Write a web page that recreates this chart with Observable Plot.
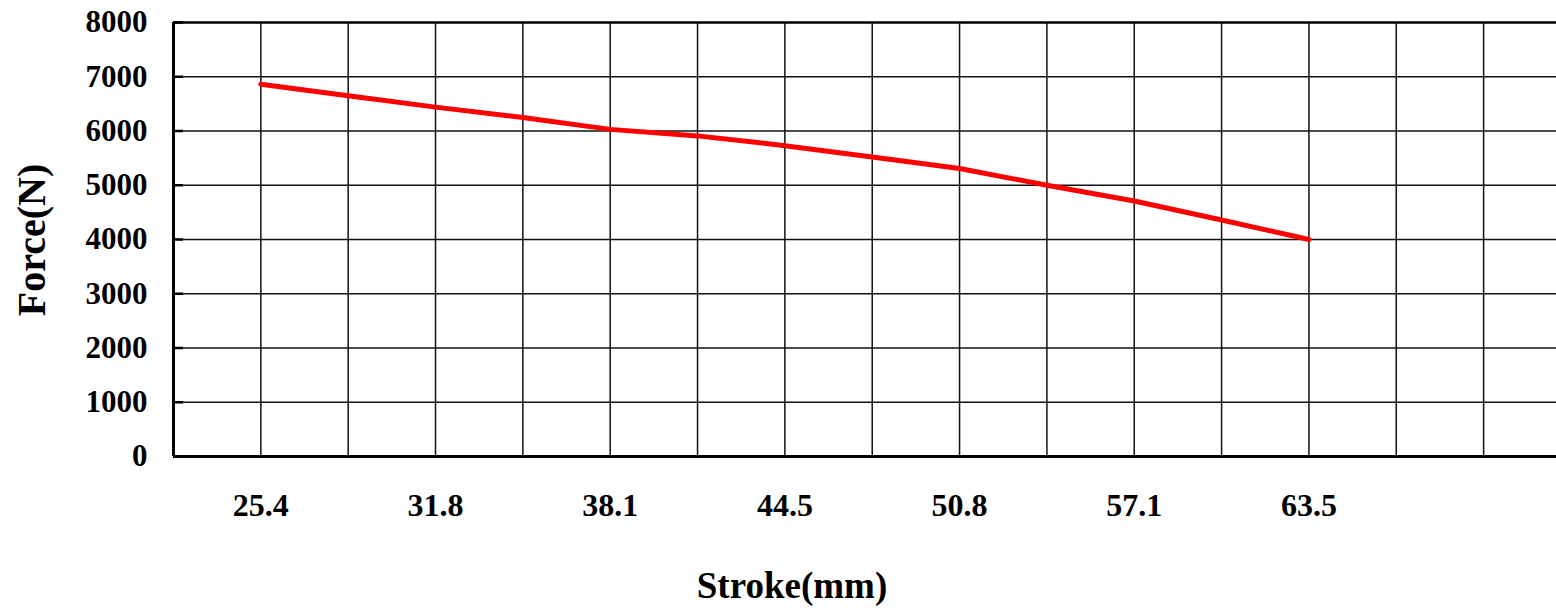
<!DOCTYPE html>
<html>
<head>
<meta charset="utf-8">
<script src="https://cdn.jsdelivr.net/npm/d3@7"></script>
<script src="https://cdn.jsdelivr.net/npm/@observablehq/plot@0.6"></script>
<style>
html, body { margin: 0; padding: 0; background: #ffffff; }
#chart { width: 1556px; height: 608px; position: relative; }
</style>
</head>
<body>
<div id="chart"></div>
<script>
// ---- data ----
const strokeMm = [25.4, 28.575, 31.75, 34.925, 38.1, 41.275, 44.45, 47.625, 50.8, 53.975, 57.15, 60.325, 63.5];
const forceN   = [6860, 6650, 6440, 6250, 6030, 5910, 5730, 5520, 5310, 5000, 4710, 4360, 4000];
const xTickValues = [25.4, 31.75, 38.1, 44.45, 50.8, 57.15, 63.5];
const xTickLabels = ["25.4", "31.8", "38.1", "44.5", "50.8", "57.1", "63.5"];
const xGridValues = [25.4, 28.575, 31.75, 34.925, 38.1, 41.275, 44.45, 47.625, 50.8, 53.975, 57.15, 60.325, 63.5, 66.675, 69.85];
const yTickValues = [0, 1000, 2000, 3000, 4000, 5000, 6000, 7000, 8000];
const xDomain = [22.225, 72.5];
const yDomain = [0, 8000];
const xTitle = "Stroke(mm)";
const yTitle = "Force(N)";

const rows = strokeMm.map((s, i) => ({stroke: s, force: forceN[i]}));
const serif = "'Liberation Serif', 'Times New Roman', Times, serif";

const chart = Plot.plot({
  width: 1556,
  height: 608,
  marginLeft: 173,
  marginRight: 0,
  marginTop: 22,
  marginBottom: 152,
  style: {background: "#ffffff", fontFamily: serif, color: "#000", overflow: "visible"},
  x: {type: "linear", domain: xDomain, axis: null},
  y: {type: "linear", domain: yDomain, axis: null},
  marks: [
    Plot.gridX(xGridValues, {stroke: "#111", strokeOpacity: 1, strokeWidth: 1.5}),
    Plot.gridY(yTickValues.filter(v => v > 0 && v < 8000), {stroke: "#111", strokeOpacity: 1, strokeWidth: 1.5}),
    Plot.ruleY([yDomain[1]], {stroke: "#000", strokeWidth: 2.5}),
    Plot.ruleX([xDomain[0]], {stroke: "#000", strokeWidth: 3}),
    Plot.ruleY([yDomain[0]], {stroke: "#000", strokeWidth: 3}),
    // inward tick marks on the y axis
    Plot.axisY(yTickValues, {anchor: "left", tickSize: 10, dx: 10, tickFormat: () => "", label: null, stroke: "#000", strokeWidth: 2.5}),
    // y tick labels
    Plot.axisY(yTickValues, {anchor: "left", tickSize: 0, tickPadding: 26, tickFormat: d => String(d), label: null,
      fontSize: 31, fontWeight: "bold", fill: "#000"}),
    // x tick labels
    Plot.axisX(xTickValues, {anchor: "bottom", tickSize: 0, tickPadding: 37, tickFormat: (d, i) => xTickLabels[i], label: null,
      fontSize: 32, fontWeight: "bold", fill: "#000"}),
    Plot.line(rows, {x: "stroke", y: "force", stroke: "#ff0000", strokeWidth: 5, strokeLinejoin: "round"})
  ]
});

const svg = d3.select(chart);
svg.append("text")
  .attr("x", 792).attr("y", 598)
  .attr("text-anchor", "middle")
  .attr("font-family", serif).attr("font-weight", "bold").attr("font-size", 37)
  .attr("fill", "#000")
  .text(xTitle);
svg.append("text")
  .attr("transform", "translate(45,240) rotate(-90)")
  .attr("text-anchor", "middle")
  .attr("font-family", serif).attr("font-weight", "bold").attr("font-size", 40)
  .attr("fill", "#000")
  .text(yTitle);

document.getElementById("chart").appendChild(chart);
</script>
</body>
</html>
